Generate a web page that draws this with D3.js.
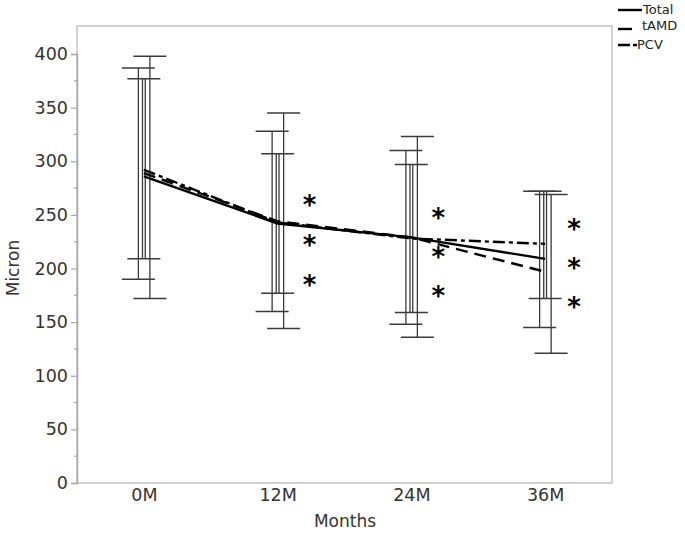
<!DOCTYPE html>
<html>
<head>
<meta charset="utf-8">
<script src="https://cdn.jsdelivr.net/npm/d3@7"></script>
<style>
  html, body { margin: 0; padding: 0; background: #fff; }
  svg { display: block; }
  text { font-family: "DejaVu Sans", Verdana, sans-serif; }
</style>
</head>
<body>
<svg id="chart" width="685" height="533"></svg>
<script>
// ---- data ----
const categories = ["0M", "12M", "24M", "36M"];
const seriesNames = ["Total", "tAMD", "PCV"];
// mean values per series
const totalMean = [286, 242, 229, 209];
const tamdMean  = [289, 244, 229, 197];
const pcvMean   = [292, 243, 228, 223];
// error bar lower / upper per series
const totalLow  = [190, 160, 148, 145];
const totalHigh = [387, 328, 310, 272];
const tamdLow   = [209, 177, 159, 172];
const tamdHigh  = [377, 307, 297, 272];
const pcvLow    = [172, 144, 136, 121];
const pcvHigh   = [398, 345, 323, 269];
// significance asterisk levels (data units) per category
const starCategories = ["12M", "24M", "36M"];
const starLevels = [[260, 223, 186], [248, 212, 175], [238, 201, 165]];
const yTicks = [0, 50, 100, 150, 200, 250, 300, 350, 400];

const svg = d3.select("#chart");
const L = 77, R = 612, T = 26, B = 483;

const x = d3.scalePoint().domain(categories).range([L, R]).padding(0.5);
const y = d3.scaleLinear().domain([0, 400]).range([B, 54]);

// frame
svg.append("rect").attr("x", L).attr("y", T).attr("width", R - L).attr("height", B - T)
  .attr("fill", "none").attr("stroke", "#c4c4c4").attr("stroke-width", 1.5);

// y axis
const yAxis = d3.axisLeft(y).tickValues(yTicks).tickSize(6).tickPadding(3);
const gy = svg.append("g").attr("transform", `translate(${L},0)`).call(yAxis);
gy.select(".domain").attr("stroke", "#a8a8a8").attr("stroke-width", 1.5);
gy.selectAll(".tick line").attr("stroke", "#a8a8a8").attr("stroke-width", 1.2);
gy.selectAll(".tick text").attr("font-size", 17.5).attr("fill", "#333");
// minor ticks
const minor = d3.range(25, 400, 50);
svg.append("g").selectAll("line").data(minor).join("line")
  .attr("x1", L - 3).attr("x2", L).attr("y1", d => y(d)).attr("y2", d => y(d))
  .attr("stroke", "#a8a8a8").attr("stroke-width", 1.2);

// x axis labels
const xAxis = d3.axisBottom(x).tickSize(0).tickPadding(6);
const gx = svg.append("g").attr("transform", `translate(0,${B})`).call(xAxis);
gx.select(".domain").remove();
gx.selectAll(".tick text").attr("font-size", 17.5).attr("fill", "#333");

// axis titles
svg.append("text").attr("x", 345).attr("y", 521).attr("text-anchor", "middle")
  .attr("dominant-baseline", "central").attr("font-size", 17).attr("fill", "#333").text("Months");
svg.append("text").attr("transform", "translate(13,268) rotate(-90)").attr("text-anchor", "middle")
  .attr("dominant-baseline", "central").attr("font-size", 17).attr("fill", "#333").text("Micron");

// error bars
const ebColor = "#3a3a3a";
const capHalf = 16.5;
const ebSeries = [
  { low: totalLow, high: totalHigh, dx: -5.5, dbl: false },
  { low: tamdLow,  high: tamdHigh,  dx: 0,    dbl: true },
  { low: pcvLow,   high: pcvHigh,   dx: 6,    dbl: false }
];
const gEb = svg.append("g");
ebSeries.forEach(s => {
  categories.forEach((c, i) => {
    const cx = x(c) + s.dx;
    const offs = s.dbl ? [-1.4, 1.4] : [0];
    offs.forEach(o => {
      gEb.append("line").attr("x1", cx + o).attr("x2", cx + o)
        .attr("y1", y(s.low[i])).attr("y2", y(s.high[i]))
        .attr("stroke", ebColor).attr("stroke-width", 1.3);
    });
    [s.low[i], s.high[i]].forEach(v => {
      gEb.append("line").attr("x1", cx - capHalf).attr("x2", cx + capHalf)
        .attr("y1", y(v)).attr("y2", y(v))
        .attr("stroke", ebColor).attr("stroke-width", 1.5);
    });
  });
});

// mean lines
const dashes = { Total: null, tAMD: "12,7", PCV: "12,4,4,4" };
const means = { Total: totalMean, tAMD: tamdMean, PCV: pcvMean };
const line = d3.line().x((d, i) => x(categories[i])).y(d => y(d));
seriesNames.forEach(n => {
  svg.append("path").datum(means[n]).attr("d", line)
    .attr("fill", "none").attr("stroke", "#000").attr("stroke-width", 2.4)
    .attr("stroke-dasharray", dashes[n]);
});

// asterisks
const starDx = [32, 27, 29];
starCategories.forEach((c, i) => {
  starLevels[i].forEach(v => {
    svg.append("text").attr("x", x(c) + starDx[i]).attr("y", y(v) + 10)
      .attr("text-anchor", "middle").attr("font-size", 26).attr("font-weight", "bold")
      .attr("fill", "#000").text("*");
  });
});

// legend
const legend = [
  { name: "Total", ly: 10, ty: 9, tx: 643, x2: 642 },
  { name: "tAMD",  ly: 29, ty: 25, tx: 642, x2: 632 },
  { name: "PCV",   ly: 45, ty: 44, tx: 637, x2: 637 }
];
legend.forEach(d => {
  svg.append("line").attr("x1", 618).attr("x2", d.x2).attr("y1", d.ly).attr("y2", d.ly)
    .attr("stroke", "#000").attr("stroke-width", 2.4)
    .attr("stroke-dasharray", d.name === "PCV" ? "12,3,4,3" : null);
  svg.append("text").attr("x", d.tx).attr("y", d.ty).attr("dominant-baseline", "central")
    .attr("font-size", 13).attr("fill", "#222").text(d.name);
});
</script>
</body>
</html>
